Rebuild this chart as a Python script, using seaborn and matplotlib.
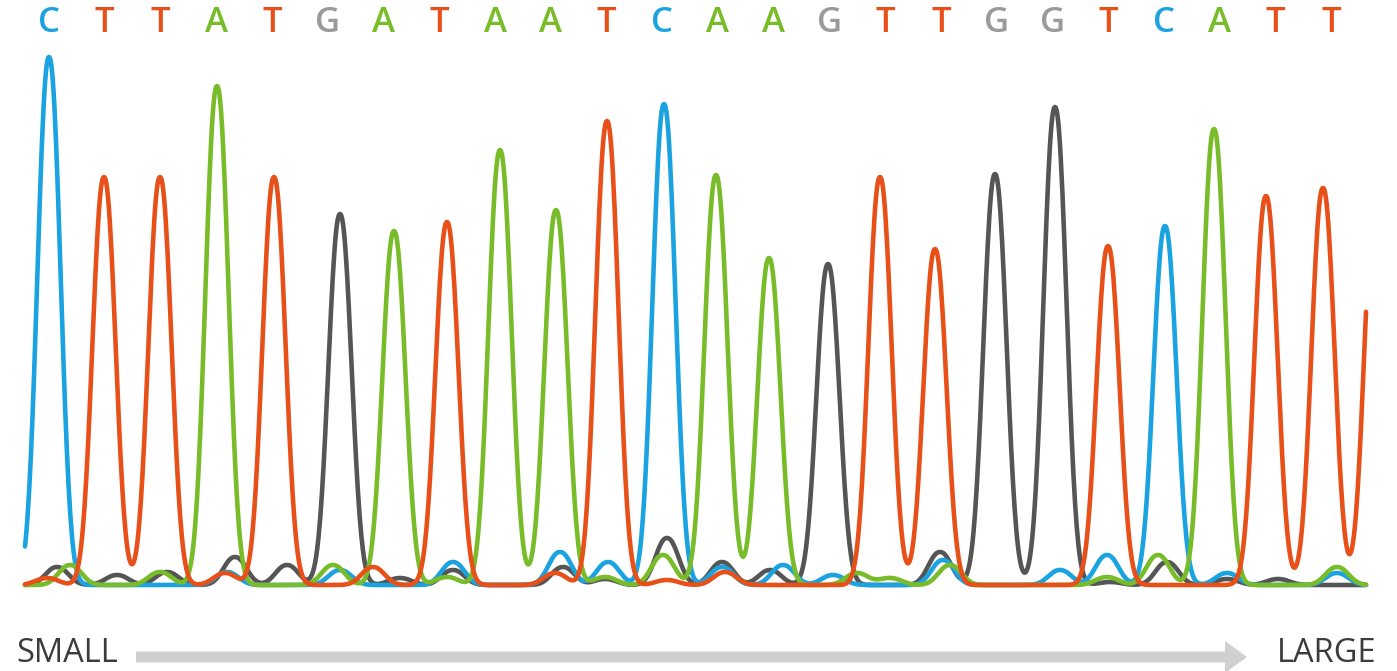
import numpy as np
import pandas as pd
import matplotlib
matplotlib.use('Agg')
import matplotlib.pyplot as plt
import seaborn as sns

# base calls printed along the top
bases = list('CTTATGATAATCAAGTTGGTCATT')

# peaks per channel: scan position and signal height
a_pos = [70, 160, 217, 333, 394, 447, 500, 556, 605, 663, 716, 769, 857, 890, 950, 1107, 1158, 1214, 1337]
a_val = [20, 13, 499, 20, 354, 8, 435, 375, 8, 30, 410, 327, 12, 7, 20, 8, 30, 456, 18]

c_pos = [49, 227, 340, 453, 560, 608, 664, 722, 783, 833, 943, 1060, 1107, 1165, 1227, 1337]
c_val = [528, 13, 15, 23, 33, 23, 481, 18, 20, 10, 25, 15, 30, 359, 12, 12]

g_pos = [57, 117, 167, 235, 287, 340, 400, 453, 563, 605, 667, 722, 770, 828, 940, 995, 1055, 1110, 1167, 1227, 1278]
g_val = [18, 10, 13, 28, 20, 371, 7, 15, 18, 6, 47, 23, 15, 321, 33, 411, 478, 3, 23, 6, 6]

t_pos = [47, 104, 160, 225, 274, 373, 447, 555, 607, 667, 725, 880, 935, 1108, 1266, 1323, 1376]
t_val = [7, 408, 408, 12, 408, 18, 363, 12, 464, 5, 13, 408, 336, 339, 389, 397, 400]

colors = {'G': '#555555', 'C': '#1AA3E0', 'A': '#79BC2A', 'T': '#E8501A'}
letter_colors = {'G': '#9A9A9A', 'C': '#1AA3E0', 'A': '#79BC2A', 'T': '#E8501A'}

# peak shape: slightly flattened gaussian, close to what the trace looks like
scan = np.linspace(25, 1366, 1600)
half = 15.5
shape_p = 2.2
rows = []
for ch, pos, val in [('G', g_pos, g_val), ('C', c_pos, c_val), ('A', a_pos, a_val), ('T', t_pos, t_val)]:
    sig = np.zeros_like(scan)
    for p, v in zip(pos, val):
        sig += v * np.exp(-np.abs((scan - p) / half) ** shape_p)
    rows.append(pd.DataFrame({'scan': scan, 'signal': sig, 'base': ch}))
df = pd.concat(rows)

sns.set_style('white')
fig = plt.figure(figsize=(13.97, 6.71), dpi=100)
ax = fig.add_axes([0, 0, 1, 1])
sns.lineplot(data=df, x='scan', y='signal', hue='base', palette=colors,
             hue_order=['G', 'C', 'A', 'T'], linewidth=3.3, legend=False,
             estimator=None, sort=False, ax=ax)
ax.set_xlim(0, 1397)
ax.set_ylim(-86, 585)
ax.axis('off')

for i, b in enumerate(bases):
    ax.text(49 + 55.75 * i, 562, b, ha='center', va='center', fontsize=25,
            fontweight='semibold', family=['Open Sans', 'DejaVu Sans'],
            color=letter_colors[b])

ax.arrow(136, -72, 1111, 0, width=11, head_width=32, head_length=22,
         length_includes_head=True, color='#D0D0D0', lw=0)
ax.text(16, -77, 'SMALL', ha='left', va='baseline', fontsize=23.5,
        family=['Open Sans', 'DejaVu Sans'], color='#3C3C3C')
ax.text(1376, -77, 'LARGE', ha='right', va='baseline', fontsize=23.5,
        family=['Open Sans', 'DejaVu Sans'], color='#3C3C3C')

fig.savefig('out.png', dpi=100)
